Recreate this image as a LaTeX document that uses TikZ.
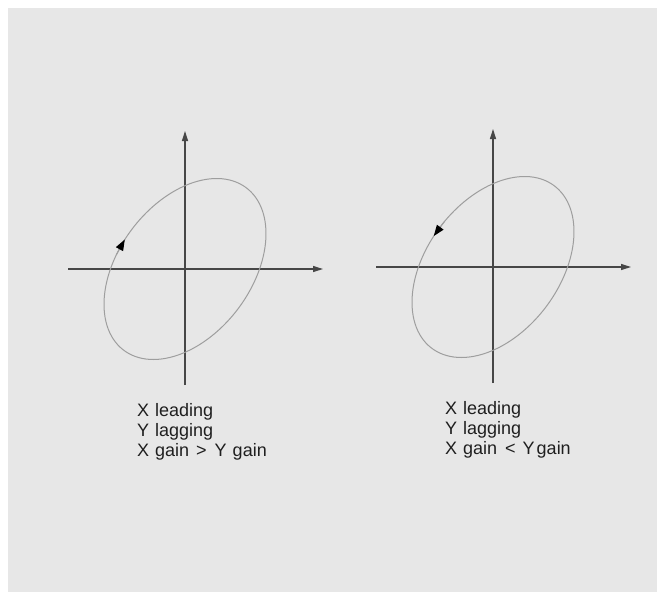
\documentclass[tikz,border=0pt]{standalone}
\usepackage{fontspec}
\setmainfont{Liberation Sans}
\usetikzlibrary{arrows.meta}
\definecolor{paper}{HTML}{E7E7E7}
\definecolor{axisgray}{HTML}{474747}
\definecolor{curvegray}{HTML}{9E9E9E}
\tikzset{
  axis/.style={axisgray, line width=1.3pt, -{Triangle[length=10pt,width=6pt]}},
  curve/.style={curvegray, line width=1pt},
  sense/.style={curvegray, line width=1pt, -{Triangle[length=11pt,width=8pt,color=black]}},
  caption/.style={align=left, anchor=north west, inner sep=0pt, text=black!88, font=\fontsize{18}{20}\selectfont}
}
% #1 name, #2 origin, #3 start angle of sense arrow, #4 end angle (tip), #5 caption
\newcommand{\phaseplot}[5]{
  \begin{scope}[shift={#2}]
    \coordinate (#1O) at (0,0);
    % axes
    \draw[axis] (-117,0) -- (138,0);
    \draw[axis] (0,116) -- (0,-138);
    % Lissajous ellipse
    \draw[curve] plot[domain=0:360, samples=120, smooth] ({81*sin(\x)}, {-90.5*sin(\x+67)}) -- cycle;
    % sense of rotation
    \draw[sense] ({81*sin(#3)}, {-90.5*sin(#3+67)}) -- ({81*sin(#4)}, {-90.5*sin(#4+67)});
    % caption
    \node[caption] (#1cap) at (-48,134) {#5};
  \end{scope}
}

\begin{document}
\begin{tikzpicture}[x=1pt, y=-1pt]

    \useasboundingbox (0,0) rectangle (661,592);
    \fill[white] (0,0) rectangle (661,592);
    \fill[paper] (8,8) rectangle (657,592);

    % Left: clockwise
    \phaseplot{left}{(185,269)}{302}{312}{X\hspace{6pt}leading\\Y\hspace{6pt}lagging\\X\hspace{6pt}gain\hspace{7pt}>\hspace{8pt}Y\hspace{6pt}gain}

    % Right: anticlockwise
    \phaseplot{right}{(493,267)}{323}{313}{X\hspace{6pt}leading\\Y\hspace{6pt}lagging\\X\hspace{6pt}gain\hspace{8pt}<\hspace{7pt}Y\hspace{2pt}gain}

\end{tikzpicture}
\end{document}
